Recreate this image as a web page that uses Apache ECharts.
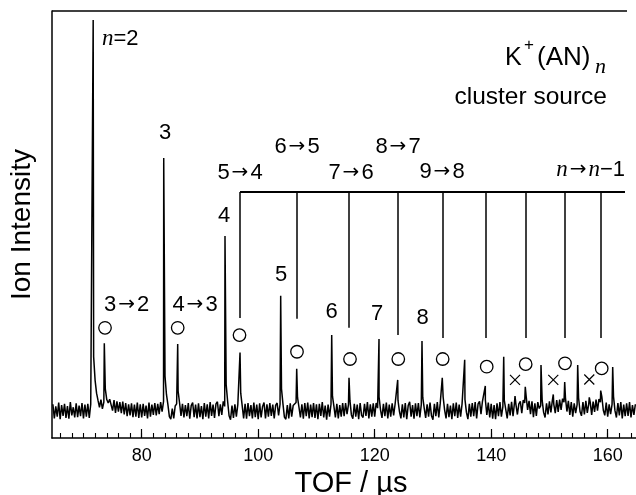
<!DOCTYPE html>
<html><head><meta charset="utf-8">
<script src="https://cdn.jsdelivr.net/npm/echarts@6/dist/echarts.min.js"></script>
<style>html,body{margin:0;padding:0;background:#fff}#c{width:636px;height:495px}</style>
</head><body><div id="c"></div><script>
// ---- axis ticks ----
const xTickLabels = [80, 100, 120, 140, 160];
const xMinorTicks = [66,68,70,72,74,76,78,80,82,84,86,88,90,92,94,96,98,100,102,104,106,108,110,112,114,116,118,120,122,124,126,128,130,132,134,136,138,140,142,144,146,148,150,152,154,156,158,160,162,164];

const baselineStart = 64.75;
const baselineStep = 0.25;
const baseline = [
7.9,4.6,7.4,5.0,8.3,4.4,7.7,5.2,8.0,4.7,7.5,4.5,8.4,5.3,7.2,4.8,8.1,4.9,7.6,5.1,
8.2,4.6,7.8,5.0,8.0,4.7,7.9,8.2,19.0,13.5,10.5,8.8,7.2,9.0,6.8,8.4,11.5,9.0,8.2,9.1,
9.0,6.4,8.9,5.9,8.6,6.2,8.4,5.8,8.5,5.5,8.2,5.1,7.9,5.3,8.1,4.9,7.8,5.0,8.3,4.7,
7.9,4.8,8.0,5.2,7.6,4.6,8.3,5.0,7.8,5.4,8.2,5.3,8.0,5.6,8.4,6.2,8.6,14.5,10.2,7.8,
5.0,4.4,6.9,4.6,7.5,8.0,11.0,8.2,5.2,8.0,4.8,7.7,5.1,8.2,4.5,7.6,8.3,4.9,7.8,4.6,
8.1,4.9,7.5,4.4,8.2,5.0,7.9,4.6,8.4,5.2,7.8,4.7,8.0,8.5,5.1,7.9,5.4,8.6,7.4,12.5,
8.6,5.2,4.3,7.6,4.7,7.9,5.0,7.8,8.0,10.5,7.6,4.6,8.0,4.5,8.2,5.1,7.7,4.6,8.3,4.9,
7.8,4.4,8.1,4.8,7.4,8.3,4.6,7.9,5.0,8.2,5.2,7.8,4.6,7.7,8.2,5.3,7.9,11.5,8.0,4.9,
4.4,7.7,4.6,8.1,5.0,7.6,8.0,8.3,9.5,7.2,4.8,7.9,4.5,8.2,5.1,8.3,4.6,7.8,4.9,8.2,
4.7,7.9,4.4,8.0,5.2,8.4,4.8,7.6,4.3,7.8,5.0,7.9,9.8,7.4,4.8,8.0,4.6,7.7,5.0,8.2,
5.1,8.2,5.6,7.9,8.8,5.4,4.5,8.0,5.0,7.8,4.4,8.2,5.3,4.8,8.0,5.2,8.4,4.6,7.9,5.0,
8.1,5.0,8.2,7.0,9.6,6.6,4.7,8.0,5.1,8.3,4.6,7.8,5.0,8.1,5.3,7.9,7.9,8.8,6.2,4.6,
7.9,4.8,8.2,4.4,7.6,8.5,5.0,7.7,4.5,8.1,5.1,8.2,4.8,7.8,9.5,7.0,4.7,7.9,5.0,8.3,
5.2,4.3,8.0,5.1,8.4,4.8,8.1,8.2,9.6,6.6,4.6,8.0,4.9,7.6,4.4,8.1,5.1,8.3,4.7,7.8,
5.0,8.0,7.6,9.0,6.0,4.4,8.0,5.0,8.2,5.1,8.4,4.6,8.0,8.6,5.6,8.6,8.6,8.9,5.4,8.3,
4.8,8.0,4.5,7.7,4.4,8.1,5.1,8.4,5.0,7.3,8.8,6.7,4.6,8.0,5.3,8.5,5.1,8.3,7.8,5.5,
8.0,8.6,5.8,8.9,8.2,9.8,6.6,8.7,5.6,8.6,4.9,8.1,5.2,8.4,6.9,7.6,8.8,6.0,4.8,8.1,
5.5,8.6,6.0,8.8,7.9,5.8,8.9,6.1,9.0,6.6,9.2,8.4,9.4,6.2,8.7,5.4,8.4,5.0,8.1,5.8,
7.8,9.4,6.2,5.2,8.4,5.5,8.7,5.9,8.0,8.4,5.4,8.5,6.1,9.0,6.4,9.1,8.4,9.6,6.5,5.3,
8.3,5.0,7.9,5.6,7.9,9.7,6.4,4.8,8.2,5.3,8.4,4.6,7.8,5.1,8.1,5.2,8.4,4.8,7.7,5.4,
7.9
];

// ---- parent ions K+(AN)n, n = 2..13 ----
const parentTOF    = [71.67, 83.78, 94.30, 103.86, 112.62, 120.74, 128.12, 135.45, 142.15, 148.55, 154.85, 160.86];
const parentHeight = [97.9, 65.6, 47.3, 33.3, 24.1, 23.2, 22.7, 18.3, 19.0, 17.1, 17.1, 16.6];

// ---- metastable fragments n -> n-1, n = 3..13 ----
const metaTOF    = [73.58, 86.18, 96.88, 106.61, 115.59, 123.95, 131.60, 138.99, 145.85, 152.62, 158.80];
const metaHeight = [22.2, 22.0, 20.0, 16.2, 14.1, 13.6, 14.1, 12.2, 12.0, 13.1, 11.1];

// ---- small peaks marked with x ----
const crossTOF    = [144.09, 150.66, 156.84];
const crossHeight = [9.8, 10.2, 9.5];

// ---- marker symbols (circles above metastable peaks, crosses) ----
const circleTOF   = [73.70, 86.18, 96.79, 106.66, 115.76, 124.05, 131.67, 139.23, 145.92, 152.67, 158.97];
const circleLevel = [25.8, 25.8, 24.1, 20.2, 18.5, 18.5, 18.5, 16.7, 17.3, 17.5, 16.3];
const crossMarkLevel = [13.6, 13.6, 13.7];

// ---- fragmentation comb ----
const combLevel = 57.6;
const combEnd = 162.97;
const combTOF = metaTOF.slice(2);
const combBottom = [28.1, 27.9, 25.8, 24.1, 23.4, 23.4, 23.4, 23.4, 23.4];

const xMin = 64.6, xMax = 164.86;
const SANS = "'Liberation Sans', Arial, Helvetica, sans-serif";
const SERIF = "'Liberation Serif', 'Times New Roman', serif";
const ARROWF = "'DejaVu Sans', 'Liberation Sans', sans-serif";

// build the trace
const trace = baseline.map((v, i) => [baselineStart + i * baselineStep, v])
  .concat(parentTOF.map((t, i) => [t, parentHeight[i]]))
  .concat(metaTOF.map((t, i) => [t, metaHeight[i]]))
  .concat(crossTOF.map((t, i) => [t, crossHeight[i]]))
  .sort((a, b) => a[0] - b[0]);

const chart = echarts.init(document.getElementById('c'), null, {renderer: 'canvas'});

function txt(text, x, y, size, align, fontFace, italic) {
  return {type: 'text', x: x, y: y, z: 100,
    style: {text: text, fill: '#000',
      font: (italic ? 'italic ' : '') + size + 'px ' + (fontFace || SANS),
      align: align || 'center', verticalAlign: 'middle',
      textAlign: align || 'center', textVerticalAlign: 'middle'}};
}
const richNS = {
  i: {fontFamily: SERIF, fontStyle: 'italic', fontSize: 23, fill: '#000', color: '#000'},
  r: {fontFamily: SANS, fontSize: 22, fill: '#000', color: '#000'},
  a: {fontFamily: ARROWF, fontSize: 20, fill: '#000', color: '#000', padding: [0, 2, 0, 2]}
};
function richTxt(text, x, y, align) {
  return {type: 'text', x: x, y: y, z: 100,
    style: {text: text, fill: '#000', align: align, verticalAlign: 'middle',
      textAlign: align, textVerticalAlign: 'middle', rich: richNS}};
}
function arrowLbl(a, b, x, y) {
  return richTxt('{r|' + a + '}{a|→}{r|' + b + '}', x, y, 'center');
}

const option = {
  backgroundColor: '#fff',
  animation: false,
  grid: {left: 52, right: 0, top: 11, bottom: 57, containLabel: false, outerBoundsMode: 'none'},
  xAxis: [{
    type: 'value', min: xMin, max: xMax, position: 'bottom',
    name: 'TOF / µs', nameLocation: 'middle', nameGap: 29,
    nameTextStyle: {fontFamily: SANS, fontSize: 29, color: '#000', padding: [0, 0, 0, 14]},
    axisLine: {show: true, onZero: false, lineStyle: {color: '#000', width: 1.5}},
    axisTick: {show: true, inside: true, length: 9, lineStyle: {color: '#000', width: 1.2}, customValues: xTickLabels},
    axisLabel: {show: true, margin: 9, fontFamily: SANS, fontSize: 18, color: '#000', customValues: xTickLabels},
    splitLine: {show: false}
  }, {
    type: 'value', min: xMin, max: xMax, position: 'bottom', gridIndex: 0,
    axisLine: {show: false},
    axisTick: {show: true, inside: true, length: 5, lineStyle: {color: '#000', width: 1.1}, customValues: xMinorTicks},
    axisLabel: {show: false},
    splitLine: {show: false}
  }],
  yAxis: {
    type: 'value', min: 0, max: 100,
    name: 'Ion Intensity', nameLocation: 'middle', nameGap: 16,
    nameTextStyle: {fontFamily: SANS, fontSize: 28, color: '#000'},
    axisLine: {show: true, lineStyle: {color: '#000', width: 1.5}},
    axisTick: {show: false}, axisLabel: {show: false}, splitLine: {show: false}
  },
  series: [
    {type: 'line', name: 'spectrum', data: trace, showSymbol: false, symbol: 'none',
     lineStyle: {color: '#000', width: 1.5}, z: 3, clip: true},
    {type: 'line', name: 'comb bar', data: [[combTOF[0], combLevel], [combEnd, combLevel]],
     showSymbol: false, symbol: 'none', lineStyle: {color: '#000', width: 2}, z: 4},
    {type: 'lines', name: 'comb', coordinateSystem: 'cartesian2d', z: 4,
     lineStyle: {color: '#000', width: 1.5, opacity: 1, curveness: 0},
     data: combTOF.map((t, i) => ({coords: [[t, combLevel], [t, combBottom[i]]]}))},
    {type: 'scatter', name: 'metastable', data: circleTOF.map((t, i) => [t, circleLevel[i]]),
     symbol: 'circle', symbolSize: 12.5, z: 5,
     itemStyle: {color: '#fff', borderColor: '#000', borderWidth: 1.3, opacity: 1}},
    {type: 'scatter', name: 'cross', data: crossTOF.map((t, i) => [t, crossMarkLevel[i]]),
     symbol: 'path://M0,0L10,10M10,0L0,10', symbolSize: [10, 10], z: 5,
     itemStyle: {color: 'none', borderColor: '#000', borderWidth: 1.2, opacity: 1}}
  ],
  graphic: [
    {type: 'line', shape: {x1: 52, y1: 11, x2: 627, y2: 11}, style: {stroke: '#000', lineWidth: 1.5}, z: 10},
    richTxt('{i|n}{r|=2}', 102, 39, 'left'),
    txt('3', 165, 133, 22),
    txt('4', 224, 216, 22),
    txt('5', 281, 275, 22),
    txt('6', 331.5, 311.5, 22),
    txt('7', 377, 313.5, 22),
    txt('8', 422.7, 317.5, 22),
    arrowLbl('3', '2', 126.7, 305),
    arrowLbl('4', '3', 195, 305),
    arrowLbl('5', '4', 240, 173),
    arrowLbl('6', '5', 297, 146.7),
    arrowLbl('7', '6', 351, 173),
    arrowLbl('8', '7', 398, 146.7),
    arrowLbl('9', '8', 442, 172),
    richTxt('{i|n}{a|→}{i|n}{r|−1}', 625, 170, 'right'),
    txt('K', 505, 58, 25, 'left'),
    txt('+', 524, 45, 17, 'left'),
    txt('(AN)', 537, 58, 26, 'left'),
    txt('n', 595, 67.6, 22, 'left', SERIF, true),
    txt('cluster source', 607, 97.5, 24.5, 'right')
  ]
};
chart.setOption(option);
</script></body></html>
